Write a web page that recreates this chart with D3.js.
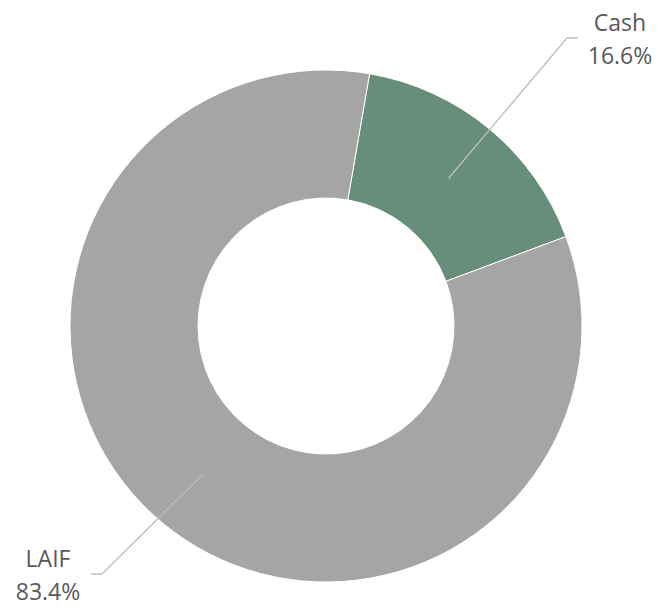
<!DOCTYPE html>
<html>
<head>
<meta charset="utf-8">
<script src="https://cdn.jsdelivr.net/npm/d3@7"></script>
<style>
  body { margin: 0; background: #fff; }
  text { font-family: "Open Sans", "Liberation Sans", sans-serif; fill: #595959; font-size: 23px; }
</style>
</head>
<body>
<svg id="chart" width="662" height="610"></svg>
<script>
// chart data
let categories = ["Cash", "LAIF"];
let values = [16.6, 83.4];
let colors = ["#668e7b", "#a5a5a5"];

let cx = 326;
let cy = 326;
let outerR = 256;
let innerR = 128;
let startOffset = 9.8 * Math.PI / 180;

let svg = d3.select("#chart");
let g = svg.append("g")
    .attr("transform", "translate(" + cx + "," + cy + ")");

let data = categories.map(function (c, i) {
    return {name: c, value: values[i], color: colors[i]};
});

let pie = d3.pie()
    .sort(null)
    .value(function (d) { return d.value; })
    .startAngle(startOffset)
    .endAngle(startOffset + 2 * Math.PI);

let arc = d3.arc()
    .innerRadius(innerR)
    .outerRadius(outerR);

let arcs = pie(data);

g.selectAll("path.slice")
    .data(arcs)
    .enter()
    .append("path")
    .attr("class", "slice")
    .attr("d", arc)
    .attr("fill", function (d) { return d.data.color; })
    .attr("stroke", "#fff")
    .attr("stroke-width", 1);

// leader lines + labels (diagonal then short horizontal)
let labelPos = {
    "Cash": {elbow: [241, -288], end: [252, -288], text: [294, -295]},
    "LAIF": {elbow: [-224, 248], end: [-235, 248], text: [-278, 241]}
};

let midArc = d3.arc().innerRadius(192).outerRadius(192);

arcs.forEach(function (d) {
    let p = labelPos[d.data.name];
    let start = midArc.centroid(d);
    g.append("polyline")
        .attr("points", [start, p.elbow, p.end].map(function (q) { return q.join(","); }).join(" "))
        .attr("fill", "none")
        .attr("stroke", "#bfbfbf")
        .attr("stroke-width", 1.3);

    let t = g.append("text")
        .attr("text-anchor", "middle")
        .attr("x", p.text[0])
        .attr("y", p.text[1]);
    t.append("tspan")
        .attr("x", p.text[0])
        .attr("y", p.text[1])
        .text(d.data.name);
    t.append("tspan")
        .attr("x", p.text[0])
        .attr("y", p.text[1] + 33)
        .text(d3.format(".1f")(d.data.value) + "%");
});
</script>
</body>
</html>
